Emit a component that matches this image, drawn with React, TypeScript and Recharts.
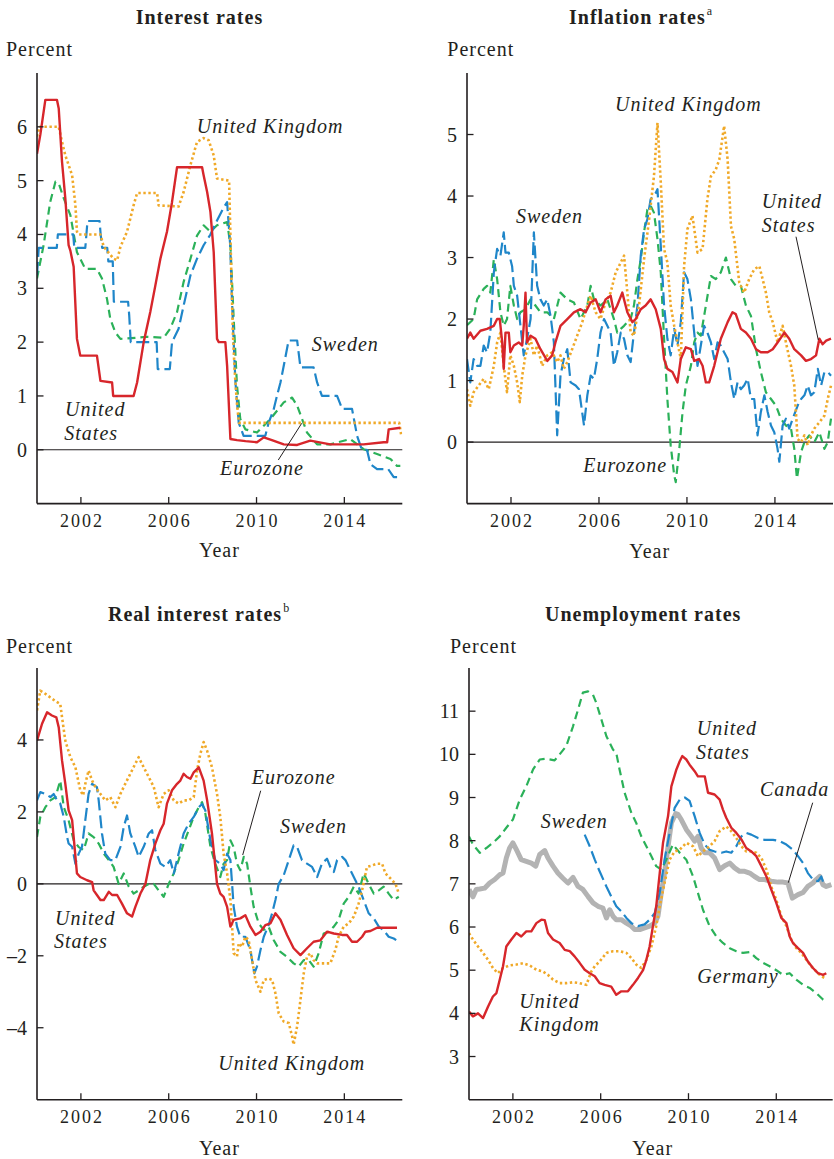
import React from 'react';
import { LineChart, Line, XAxis, YAxis, ReferenceLine } from 'recharts';

type P = [number, number];

// ---------- Interest rates ----------
const interestUS: P[] = [[2000.0,5.5],[2000.15,5.85],[2000.38,6.5],[2000.91,6.5],[2000.99,6.34],[2001.14,5.35],[2001.29,4.67],[2001.44,3.8],[2001.52,3.7],[2001.67,3.4],[2001.82,2.06],[2001.97,1.75],[2002.73,1.75],[2002.89,1.28],[2003.42,1.25],[2003.47,1.0],[2004.4,1.0],[2004.56,1.25],[2004.86,2.0],[2005.16,2.56],[2005.39,3.05],[2005.62,3.55],[2005.92,4.05],[2006.15,4.6],[2006.38,5.25],[2007.52,5.25],[2007.59,5.1],[2007.75,4.79],[2007.9,4.42],[2008.05,3.67],[2008.2,2.06],[2008.28,2.0],[2008.58,2.0],[2008.66,1.56],[2008.81,0.2],[2009.11,0.18],[2009.5,0.16],[2010.02,0.14],[2010.33,0.23],[2010.7,0.18],[2011.24,0.1],[2011.85,0.09],[2012.45,0.17],[2013.36,0.1],[2014.88,0.1],[2015.79,0.14],[2015.95,0.14],[2016.02,0.38],[2016.55,0.41]];
const interestUK: P[] = [[2000.0,5.82],[2000.11,6.0],[2000.99,6.0],[2001.14,5.72],[2001.29,5.47],[2001.44,5.29],[2001.6,5.1],[2001.75,4.54],[2001.82,4.05],[2001.9,4.0],[2002.89,4.0],[2003.04,3.77],[2003.49,3.55],[2003.65,3.52],[2003.8,3.77],[2004.1,4.05],[2004.4,4.54],[2004.56,4.77],[2005.47,4.77],[2005.54,4.54],[2006.45,4.52],[2006.68,4.79],[2006.99,5.29],[2007.29,5.72],[2007.59,5.79],[2007.82,5.75],[2008.05,5.47],[2008.2,5.04],[2008.75,5.0],[2008.85,3.3],[2008.92,2.2],[2009.0,1.5],[2009.1,0.9],[2009.2,0.5],[2016.5,0.5],[2016.6,0.25]];
const interestSE: P[] = [[2000.0,3.25],[2000.08,3.75],[2000.9,3.75],[2000.95,4.0],[2001.65,4.0],[2001.7,3.75],[2002.2,3.75],[2002.25,4.0],[2002.3,4.25],[2002.85,4.25],[2002.9,4.0],[2002.97,3.75],[2003.2,3.75],[2003.25,3.5],[2003.45,3.5],[2003.5,2.75],[2004.15,2.75],[2004.2,2.5],[2004.27,2.0],[2005.45,2.0],[2005.5,1.5],[2006.05,1.5],[2006.15,2.0],[2006.45,2.25],[2006.68,2.68],[2006.99,3.24],[2007.29,3.55],[2007.59,3.8],[2007.9,4.0],[2008.2,4.26],[2008.5,4.5],[2008.66,4.6],[2008.8,3.8],[2008.88,2.8],[2008.96,2.0],[2009.04,1.25],[2009.19,0.5],[2009.41,0.26],[2010.4,0.26],[2010.55,0.5],[2010.78,0.75],[2010.93,1.0],[2011.09,1.25],[2011.24,1.56],[2011.46,2.03],[2011.85,2.03],[2012.0,1.53],[2012.6,1.53],[2012.76,1.25],[2012.98,1.0],[2013.67,1.0],[2013.9,0.76],[2014.35,0.76],[2014.58,0.26],[2014.8,0.0],[2015.03,0.0],[2015.19,-0.27],[2015.49,-0.36],[2016.0,-0.36],[2016.25,-0.51],[2016.6,-0.51]];
const interestEZ: P[] = [[2000.0,3.18],[2000.3,3.8],[2000.6,4.6],[2000.84,4.98],[2000.99,4.95],[2001.22,4.67],[2001.52,4.36],[2001.82,3.67],[2001.97,3.55],[2002.2,3.36],[2002.73,3.36],[2002.96,3.18],[2003.19,2.8],[2003.34,2.43],[2003.57,2.18],[2003.8,2.06],[2004.5,2.08],[2005.0,2.1],[2005.77,2.08],[2006.07,2.25],[2006.38,2.56],[2006.68,3.12],[2006.99,3.55],[2007.29,3.98],[2007.59,4.17],[2007.9,4.05],[2008.2,4.17],[2008.66,4.23],[2008.81,3.8],[2008.96,2.43],[2009.11,1.19],[2009.26,0.57],[2009.49,0.38],[2010.02,0.32],[2010.63,0.57],[2011.24,0.88],[2011.62,0.97],[2011.85,0.82],[2012.3,0.32],[2012.76,0.1],[2013.36,0.1],[2014.27,0.2],[2014.88,0.01],[2015.49,-0.08],[2016.1,-0.17],[2016.4,-0.3],[2016.55,-0.3]];

// ---------- Inflation rates ----------
const inflUS: P[] = [[2000.0,1.68],[2000.15,1.78],[2000.3,1.68],[2000.61,1.81],[2000.91,1.84],[2001.22,1.89],[2001.37,2.0],[2001.49,2.0],[2001.6,1.62],[2001.67,1.19],[2001.75,1.78],[2001.9,1.78],[2001.97,1.46],[2002.13,1.57],[2002.35,1.62],[2002.51,1.57],[2002.58,1.89],[2002.66,2.43],[2002.73,1.62],[2002.89,1.73],[2003.11,1.68],[2003.34,1.51],[2003.65,1.32],[2003.87,1.41],[2004.02,1.62],[2004.25,1.89],[2004.56,2.0],[2004.86,2.11],[2005.16,2.16],[2005.39,2.11],[2005.62,2.27],[2005.85,2.32],[2006.07,2.11],[2006.3,2.32],[2006.53,2.38],[2006.68,2.11],[2006.83,2.22],[2007.06,2.43],[2007.29,2.11],[2007.52,1.95],[2007.67,2.0],[2007.9,2.16],[2008.12,2.22],[2008.35,2.32],[2008.58,2.16],[2008.81,1.84],[2008.96,1.35],[2009.11,1.19],[2009.34,1.14],[2009.57,0.97],[2009.72,1.35],[2009.95,1.54],[2010.18,1.51],[2010.33,1.32],[2010.55,1.35],[2010.71,1.24],[2010.86,0.97],[2011.01,0.97],[2011.24,1.24],[2011.54,1.68],[2011.85,1.95],[2012.07,2.11],[2012.22,2.08],[2012.45,1.84],[2012.68,1.78],[2012.91,1.68],[2013.14,1.51],[2013.36,1.46],[2013.67,1.46],[2013.9,1.51],[2014.12,1.62],[2014.43,1.78],[2014.65,1.68],[2014.88,1.51],[2015.19,1.41],[2015.41,1.32],[2015.64,1.35],[2015.87,1.41],[2016.02,1.68],[2016.17,1.59],[2016.33,1.65],[2016.55,1.68]];
const inflUK: P[] = [[2000.0,0.86],[2000.15,0.59],[2000.3,0.81],[2000.53,0.92],[2000.76,1.03],[2000.99,0.86],[2001.22,1.24],[2001.37,1.62],[2001.52,1.78],[2001.67,1.24],[2001.82,0.81],[2001.97,1.41],[2002.13,1.24],[2002.28,0.97],[2002.4,0.65],[2002.51,1.08],[2002.66,1.41],[2002.89,1.68],[2003.04,1.41],[2003.19,1.57],[2003.42,1.24],[2003.65,1.41],[2003.87,1.46],[2004.1,1.3],[2004.25,1.41],[2004.4,1.19],[2004.56,1.3],[2004.78,1.51],[2005.01,1.73],[2005.24,1.95],[2005.47,2.22],[2005.62,2.38],[2005.85,2.11],[2006.07,2.0],[2006.3,2.27],[2006.53,2.43],[2006.76,2.76],[2006.91,2.86],[2007.14,3.03],[2007.29,2.43],[2007.44,1.78],[2007.59,1.73],[2007.82,2.22],[2008.05,2.97],[2008.28,3.62],[2008.5,4.32],[2008.66,5.19],[2008.81,4.22],[2008.96,3.14],[2009.11,2.92],[2009.26,2.22],[2009.42,1.89],[2009.57,1.62],[2009.72,1.35],[2009.87,2.86],[2010.02,3.46],[2010.25,3.68],[2010.48,3.08],[2010.71,3.14],[2010.93,3.95],[2011.09,4.32],[2011.31,4.43],[2011.47,4.59],[2011.69,5.14],[2011.85,4.59],[2012.0,3.51],[2012.15,3.3],[2012.38,2.59],[2012.6,2.43],[2012.83,2.65],[2013.06,2.81],[2013.29,2.86],[2013.44,2.65],[2013.59,2.43],[2013.74,2.11],[2013.9,1.95],[2014.12,1.62],[2014.35,1.89],[2014.5,1.62],[2014.73,1.24],[2014.88,0.92],[2015.03,0.05],[2015.19,0.0],[2015.34,0.11],[2015.49,-0.05],[2015.64,0.11],[2015.79,0.22],[2016.02,0.32],[2016.25,0.43],[2016.4,0.7],[2016.55,0.92]];
const inflSE: P[] = [[2000.0,1.35],[2000.15,0.97],[2000.3,1.35],[2000.46,1.24],[2000.61,1.24],[2000.76,1.57],[2000.91,1.46],[2001.06,1.78],[2001.22,2.76],[2001.37,3.14],[2001.52,3.03],[2001.67,3.41],[2001.75,3.08],[2001.9,3.08],[2002.05,2.86],[2002.13,2.54],[2002.28,2.38],[2002.43,1.89],[2002.58,1.41],[2002.73,1.68],[2002.89,2.0],[2003.04,3.41],[2003.19,2.54],[2003.34,2.32],[2003.49,2.22],[2003.65,2.32],[2003.8,2.05],[2003.95,1.62],[2004.1,0.11],[2004.25,1.08],[2004.4,1.35],[2004.56,1.51],[2004.71,0.97],[2004.94,0.92],[2005.09,0.86],[2005.32,0.27],[2005.47,0.76],[2005.62,1.08],[2005.77,1.03],[2005.92,1.35],[2006.07,1.78],[2006.23,2.0],[2006.38,1.89],[2006.53,1.78],[2006.68,1.24],[2006.83,1.46],[2006.99,1.78],[2007.14,1.68],[2007.29,1.41],[2007.44,1.3],[2007.59,1.78],[2007.75,2.22],[2007.9,3.03],[2008.05,3.46],[2008.2,3.62],[2008.35,3.95],[2008.58,4.05],[2008.66,4.11],[2008.81,3.19],[2008.96,2.22],[2009.11,1.68],[2009.26,1.41],[2009.42,1.84],[2009.57,1.57],[2009.72,1.95],[2009.87,2.76],[2010.02,2.65],[2010.18,2.32],[2010.33,1.78],[2010.48,1.24],[2010.63,1.57],[2010.78,1.89],[2010.93,1.78],[2011.09,1.62],[2011.24,1.35],[2011.39,1.62],[2011.54,1.57],[2011.69,1.46],[2011.85,1.35],[2012.0,0.97],[2012.15,0.7],[2012.3,0.97],[2012.45,0.86],[2012.6,0.92],[2012.76,1.03],[2012.91,0.7],[2013.06,0.7],[2013.21,0.11],[2013.36,0.49],[2013.52,0.76],[2013.67,0.49],[2013.82,0.27],[2013.97,0.16],[2014.12,-0.11],[2014.2,-0.32],[2014.35,0.27],[2014.5,0.38],[2014.65,0.22],[2014.81,0.38],[2015.03,0.59],[2015.19,0.7],[2015.34,0.76],[2015.49,0.92],[2015.64,0.76],[2015.79,0.81],[2015.95,1.19],[2016.1,0.92],[2016.25,1.14],[2016.4,1.14],[2016.55,1.08]];
const inflEZ: P[] = [[2000.0,1.9],[2000.3,2.0],[2000.46,2.32],[2000.76,2.49],[2000.91,2.54],[2001.06,2.43],[2001.22,2.97],[2001.37,2.65],[2001.52,2.11],[2001.67,1.89],[2001.82,2.0],[2001.97,2.54],[2002.13,2.22],[2002.28,2.0],[2002.43,2.11],[2002.66,2.16],[2002.89,2.32],[2003.11,2.22],[2003.34,2.11],[2003.65,2.11],[2003.95,2.0],[2004.25,2.43],[2004.56,2.32],[2004.86,2.27],[2005.16,2.0],[2005.47,2.22],[2005.62,2.54],[2005.77,2.32],[2006.07,2.22],[2006.38,2.32],[2006.68,2.0],[2006.83,1.78],[2006.99,1.84],[2007.14,1.89],[2007.29,1.95],[2007.44,2.0],[2007.59,2.22],[2007.75,2.65],[2007.9,2.97],[2008.05,3.41],[2008.2,3.78],[2008.35,3.84],[2008.5,3.73],[2008.66,3.3],[2008.81,2.76],[2008.96,1.68],[2009.11,0.7],[2009.26,-0.05],[2009.42,-0.54],[2009.49,-0.65],[2009.64,-0.16],[2009.8,0.49],[2009.95,0.92],[2010.18,1.24],[2010.33,1.62],[2010.48,1.78],[2010.63,1.73],[2010.86,2.22],[2011.09,2.7],[2011.31,2.65],[2011.54,2.76],[2011.77,3.0],[2012.0,2.65],[2012.22,2.54],[2012.45,2.54],[2012.68,2.22],[2012.91,2.05],[2013.14,1.51],[2013.36,1.14],[2013.59,0.81],[2013.82,0.7],[2014.05,0.59],[2014.27,0.38],[2014.5,0.27],[2014.73,0.22],[2014.88,-0.11],[2015.0,-0.59],[2015.19,-0.16],[2015.34,0.0],[2015.56,0.11],[2015.79,0.0],[2016.02,0.16],[2016.25,-0.11],[2016.4,0.0],[2016.55,0.38]];

// ---------- Real interest rates ----------
const realUS: P[] = [[2000.0,3.98],[2000.23,4.45],[2000.46,4.77],[2000.68,4.68],[2000.88,4.63],[2000.99,4.35],[2001.14,3.43],[2001.29,2.78],[2001.44,2.04],[2001.6,1.77],[2001.67,1.3],[2001.82,0.29],[2001.97,0.19],[2002.28,0.1],[2002.51,0.05],[2002.58,-0.18],[2002.73,-0.31],[2002.89,-0.45],[2003.04,-0.45],[2003.27,-0.22],[2003.42,-0.31],[2003.65,-0.31],[2003.87,-0.55],[2004.1,-0.82],[2004.33,-0.91],[2004.48,-0.64],[2004.71,-0.27],[2004.94,0.0],[2005.16,0.66],[2005.39,1.12],[2005.62,1.49],[2005.77,1.67],[2005.92,2.23],[2006.15,2.6],[2006.38,2.78],[2006.53,2.87],[2006.68,3.06],[2006.83,2.97],[2006.99,2.92],[2007.14,3.1],[2007.37,3.24],[2007.59,2.87],[2007.75,2.32],[2007.97,1.4],[2008.2,0.0],[2008.35,-0.27],[2008.5,-0.36],[2008.66,-0.64],[2008.81,-1.19],[2008.96,-1.0],[2009.26,-0.96],[2009.49,-0.87],[2009.72,-1.19],[2009.95,-1.42],[2010.18,-1.33],[2010.4,-1.15],[2010.63,-1.1],[2010.86,-0.82],[2011.09,-1.0],[2011.39,-1.42],[2011.69,-1.79],[2012.0,-1.98],[2012.3,-1.79],[2012.6,-1.61],[2012.91,-1.57],[2013.21,-1.33],[2013.52,-1.38],[2013.9,-1.42],[2014.12,-1.42],[2014.35,-1.61],[2014.58,-1.61],[2014.81,-1.47],[2014.96,-1.33],[2015.19,-1.31],[2015.49,-1.22],[2016.4,-1.22]];
const realUK: P[] = [[2000.0,4.82],[2000.15,5.37],[2000.3,5.32],[2000.61,5.18],[2000.84,5.08],[2001.06,5.0],[2001.14,4.63],[2001.29,3.98],[2001.52,3.52],[2001.75,3.24],[2001.97,2.6],[2002.1,2.46],[2002.2,2.78],[2002.35,3.15],[2002.51,2.87],[2002.66,2.69],[2002.89,2.5],[2003.11,2.32],[2003.34,2.41],[2003.57,2.13],[2003.8,2.5],[2004.02,2.78],[2004.25,3.06],[2004.48,3.34],[2004.63,3.52],[2004.86,3.24],[2005.09,2.97],[2005.32,2.69],[2005.54,2.13],[2005.77,2.5],[2006.0,2.6],[2006.23,2.32],[2006.45,2.23],[2006.68,2.32],[2006.91,2.32],[2007.14,2.41],[2007.29,3.15],[2007.44,3.61],[2007.59,3.94],[2007.75,3.7],[2007.97,3.24],[2008.2,2.5],[2008.35,1.86],[2008.5,0.84],[2008.66,0.29],[2008.81,-0.45],[2008.96,-1.93],[2009.11,-2.02],[2009.19,-1.65],[2009.34,-1.75],[2009.49,-1.47],[2009.64,-1.56],[2009.8,-2.12],[2009.95,-2.67],[2010.18,-3.0],[2010.33,-2.67],[2010.55,-2.63],[2010.71,-2.67],[2010.86,-3.04],[2011.01,-3.6],[2011.24,-3.83],[2011.47,-3.87],[2011.62,-4.24],[2011.69,-4.47],[2011.85,-3.96],[2012.0,-3.23],[2012.15,-2.49],[2012.3,-2.02],[2012.45,-1.93],[2012.6,-2.12],[2012.76,-2.21],[2013.06,-2.21],[2013.36,-2.21],[2013.59,-1.84],[2013.74,-1.47],[2013.97,-1.19],[2014.2,-1.1],[2014.43,-0.91],[2014.65,-0.55],[2014.81,-0.18],[2015.03,0.47],[2015.26,0.51],[2015.49,0.56],[2015.72,0.56],[2015.87,0.29],[2016.1,0.15],[2016.33,0.0],[2016.48,-0.27]];
const realSE: P[] = [[2000.0,2.32],[2000.15,2.55],[2000.38,2.5],[2000.61,2.41],[2000.76,2.5],[2000.91,2.32],[2001.06,2.23],[2001.22,1.86],[2001.37,1.3],[2001.44,1.12],[2001.6,1.03],[2001.75,0.56],[2001.9,0.84],[2002.05,1.03],[2002.2,1.77],[2002.35,2.5],[2002.51,2.78],[2002.73,2.69],[2002.81,2.32],[2002.96,1.4],[2003.11,0.84],[2003.34,0.66],[2003.57,0.66],[2003.8,1.03],[2003.95,1.58],[2004.1,1.9],[2004.25,1.4],[2004.48,1.03],[2004.63,0.75],[2004.86,1.03],[2005.09,1.4],[2005.24,1.49],[2005.39,0.94],[2005.62,0.56],[2005.85,0.47],[2006.07,0.66],[2006.23,0.29],[2006.45,0.84],[2006.68,1.4],[2006.91,1.68],[2007.14,1.86],[2007.37,2.13],[2007.52,2.22],[2007.67,2.04],[2007.9,1.21],[2008.12,0.66],[2008.35,0.56],[2008.5,0.38],[2008.66,0.84],[2008.81,0.66],[2008.96,-0.64],[2009.11,-1.19],[2009.26,-1.47],[2009.49,-1.47],[2009.72,-1.84],[2009.9,-2.49],[2010.02,-2.3],[2010.18,-1.84],[2010.33,-1.47],[2010.55,-1.15],[2010.71,-0.82],[2010.86,-0.45],[2011.01,0.0],[2011.24,0.24],[2011.47,0.66],[2011.69,1.07],[2011.85,1.02],[2012.07,0.66],[2012.3,0.56],[2012.53,0.47],[2012.76,0.19],[2012.98,0.56],[2013.21,0.7],[2013.36,0.47],[2013.52,0.33],[2013.67,0.66],[2013.9,0.75],[2014.05,0.66],[2014.2,0.47],[2014.43,0.19],[2014.65,-0.08],[2014.88,-0.45],[2015.11,-0.82],[2015.34,-0.96],[2015.57,-1.19],[2015.79,-1.29],[2016.02,-1.47],[2016.25,-1.52],[2016.48,-1.61]];
const realEZ: P[] = [[2000.0,1.3],[2000.15,1.86],[2000.38,2.13],[2000.61,2.32],[2000.84,2.41],[2001.06,2.87],[2001.22,2.13],[2001.44,1.77],[2001.67,1.21],[2001.9,1.02],[2002.13,0.94],[2002.35,1.4],[2002.58,1.3],[2002.81,1.12],[2003.04,0.84],[2003.27,0.66],[2003.49,0.47],[2003.72,0.0],[2003.95,0.29],[2004.18,-0.08],[2004.4,-0.27],[2004.63,-0.18],[2004.86,-0.08],[2005.09,0.0],[2005.32,0.0],[2005.54,-0.18],[2005.77,-0.36],[2006.0,0.0],[2006.23,0.29],[2006.45,0.66],[2006.68,1.12],[2006.91,1.49],[2007.14,1.86],[2007.37,2.13],[2007.52,2.27],[2007.67,1.95],[2007.9,1.03],[2008.12,0.56],[2008.35,0.19],[2008.5,0.56],[2008.66,0.66],[2008.81,1.21],[2008.96,1.02],[2009.11,0.56],[2009.26,0.38],[2009.42,0.75],[2009.57,0.56],[2009.72,-0.08],[2009.87,-0.64],[2010.1,-1.1],[2010.33,-1.28],[2010.55,-1.19],[2010.78,-1.56],[2011.09,-1.89],[2011.39,-2.03],[2011.69,-2.21],[2011.92,-2.3],[2012.15,-2.12],[2012.38,-2.12],[2012.6,-2.3],[2012.83,-1.93],[2013.06,-1.38],[2013.29,-1.33],[2013.52,-1.19],[2013.74,-1.0],[2013.97,-0.55],[2014.2,-0.36],[2014.43,-0.08],[2014.65,-0.27],[2014.88,0.29],[2015.11,0.0],[2015.34,-0.27],[2015.57,-0.18],[2015.79,-0.08],[2016.02,-0.27],[2016.25,-0.45],[2016.48,-0.36]];

// ---------- Unemployment rates ----------
const unempDE: P[] = [[2000.0,8.1],[2000.18,7.91],[2000.49,7.72],[2000.79,7.83],[2001.09,7.95],[2001.4,8.1],[2001.7,8.3],[2002.0,8.49],[2002.31,8.95],[2002.61,9.26],[2002.92,9.65],[2003.22,9.88],[2003.52,9.9],[2003.9,9.86],[2004.13,10.0],[2004.43,10.19],[2004.74,10.65],[2004.97,11.04],[2005.19,11.43],[2005.42,11.46],[2005.65,11.38],[2005.8,11.19],[2006.03,10.81],[2006.26,10.42],[2006.56,10.11],[2006.71,10.03],[2006.86,9.65],[2007.09,9.11],[2007.4,8.64],[2007.62,8.41],[2007.85,8.1],[2008.08,7.87],[2008.31,7.64],[2008.53,7.41],[2008.76,7.33],[2008.99,7.56],[2009.29,7.91],[2009.6,7.72],[2009.9,7.56],[2010.21,7.17],[2010.43,6.79],[2010.66,6.4],[2010.96,6.02],[2011.27,5.78],[2011.57,5.63],[2011.88,5.51],[2012.18,5.44],[2012.48,5.4],[2012.79,5.42],[2013.09,5.28],[2013.39,5.17],[2013.7,5.09],[2014.0,5.0],[2014.31,4.89],[2014.61,4.93],[2014.91,4.78],[2015.22,4.66],[2015.52,4.59],[2015.82,4.47],[2016.13,4.32],[2016.28,4.28]];
const unempUS: P[] = [[2000.0,4.04],[2000.18,3.93],[2000.41,4.0],[2000.64,3.89],[2000.87,4.16],[2001.09,4.39],[2001.25,4.47],[2001.4,4.78],[2001.55,5.09],[2001.7,5.55],[2001.93,5.71],[2002.16,5.86],[2002.38,5.78],[2002.61,5.9],[2002.84,5.9],[2003.07,6.09],[2003.3,6.17],[2003.45,6.16],[2003.6,5.86],[2003.83,5.71],[2004.13,5.63],[2004.36,5.47],[2004.59,5.44],[2004.81,5.32],[2005.04,5.17],[2005.27,5.01],[2005.5,4.93],[2005.73,4.86],[2005.95,4.7],[2006.18,4.66],[2006.48,4.62],[2006.71,4.43],[2006.94,4.51],[2007.24,4.51],[2007.47,4.66],[2007.7,4.82],[2007.93,5.0],[2008.08,5.24],[2008.23,5.55],[2008.38,6.02],[2008.53,6.48],[2008.69,7.25],[2008.84,7.95],[2009.07,8.57],[2009.22,9.26],[2009.45,9.65],[2009.6,9.84],[2009.72,9.96],[2009.9,9.88],[2010.05,9.76],[2010.28,9.61],[2010.43,9.49],[2010.74,9.49],[2010.89,9.11],[2011.19,9.07],[2011.42,8.95],[2011.57,8.72],[2011.72,8.53],[2011.95,8.3],[2012.18,8.18],[2012.41,8.03],[2012.63,7.83],[2012.86,7.75],[2013.09,7.64],[2013.32,7.41],[2013.55,7.17],[2013.77,6.87],[2014.0,6.56],[2014.23,6.21],[2014.46,6.09],[2014.61,5.78],[2014.76,5.63],[2014.99,5.51],[2015.22,5.4],[2015.44,5.2],[2015.67,5.05],[2015.9,4.93],[2016.13,4.89],[2016.28,4.93]];
const unempUK: P[] = [[2000.0,5.86],[2000.18,5.71],[2000.41,5.55],[2000.64,5.4],[2000.87,5.24],[2001.09,5.05],[2001.32,4.93],[2001.55,5.05],[2001.85,5.11],[2002.16,5.13],[2002.46,5.16],[2002.76,5.11],[2003.07,5.01],[2003.37,4.97],[2003.6,4.89],[2003.83,4.78],[2004.13,4.7],[2004.43,4.7],[2004.74,4.72],[2005.04,4.7],[2005.35,4.66],[2005.57,4.97],[2005.73,5.09],[2005.95,5.2],[2006.26,5.4],[2006.56,5.44],[2006.86,5.44],[2007.17,5.4],[2007.4,5.28],[2007.62,5.13],[2007.85,5.05],[2008.08,5.24],[2008.31,5.55],[2008.53,6.02],[2008.69,6.48],[2008.91,7.02],[2009.14,7.56],[2009.37,7.75],[2009.6,7.79],[2009.9,7.95],[2010.21,7.87],[2010.43,7.64],[2010.66,7.75],[2010.96,7.87],[2011.19,7.99],[2011.42,8.22],[2011.72,8.33],[2011.95,8.22],[2012.18,8.06],[2012.41,7.87],[2012.63,7.75],[2012.86,7.75],[2013.09,7.72],[2013.32,7.6],[2013.55,7.33],[2013.77,6.94],[2014.0,6.63],[2014.23,6.25],[2014.46,6.02],[2014.68,5.71],[2014.91,5.51],[2015.14,5.4],[2015.37,5.24],[2015.6,5.09],[2015.82,4.97],[2016.05,4.86],[2016.2,4.82]];
const unempSE: P[] = [[2005.27,8.14],[2005.5,7.87],[2005.73,7.56],[2005.95,7.29],[2006.26,6.94],[2006.48,6.71],[2006.71,6.48],[2006.94,6.36],[2007.17,6.21],[2007.4,6.09],[2007.7,6.02],[2008.0,6.06],[2008.23,6.17],[2008.46,6.32],[2008.69,6.79],[2008.91,7.56],[2009.14,8.18],[2009.37,8.76],[2009.6,8.95],[2009.83,9.0],[2010.05,8.92],[2010.28,8.57],[2010.51,8.18],[2010.74,7.91],[2010.96,7.79],[2011.19,7.75],[2011.5,7.72],[2011.72,7.75],[2011.95,7.72],[2012.18,7.87],[2012.41,8.1],[2012.63,8.18],[2012.86,8.14],[2013.17,8.06],[2013.47,8.02],[2013.85,8.02],[2014.15,7.99],[2014.46,7.91],[2014.76,7.79],[2014.99,7.64],[2015.22,7.48],[2015.44,7.25],[2015.67,7.1],[2015.9,7.06],[2016.05,7.17],[2016.2,6.94]];
const unempCA: P[] = [[2000.0,6.87],[2000.18,6.7],[2000.33,6.87],[2000.49,6.88],[2000.71,6.9],[2000.94,7.02],[2001.17,7.1],[2001.4,7.21],[2001.55,7.25],[2001.7,7.6],[2001.85,7.83],[2002.0,7.95],[2002.16,7.79],[2002.38,7.56],[2002.61,7.52],[2002.84,7.48],[2003.04,7.41],[2003.22,7.68],[2003.45,7.77],[2003.6,7.6],[2003.83,7.41],[2004.05,7.25],[2004.28,7.13],[2004.51,7.02],[2004.74,7.15],[2004.97,6.94],[2005.19,6.87],[2005.42,6.71],[2005.65,6.56],[2005.88,6.48],[2006.1,6.44],[2006.26,6.21],[2006.41,6.4],[2006.56,6.25],[2006.71,6.17],[2006.94,6.17],[2007.17,6.09],[2007.4,6.02],[2007.55,5.94],[2007.78,5.94],[2008.0,5.98],[2008.23,6.02],[2008.46,6.09],[2008.61,6.25],[2008.76,6.79],[2008.91,7.25],[2009.07,7.87],[2009.22,8.41],[2009.42,8.63],[2009.52,8.61],[2009.67,8.49],[2009.9,8.26],[2010.13,8.1],[2010.28,7.99],[2010.43,8.1],[2010.58,7.83],[2010.74,7.72],[2010.96,7.72],[2011.19,7.6],[2011.42,7.33],[2011.65,7.42],[2011.88,7.48],[2012.1,7.37],[2012.33,7.29],[2012.56,7.29],[2012.79,7.25],[2013.01,7.17],[2013.24,7.1],[2013.47,7.1],[2013.77,7.06],[2014.08,7.04],[2014.31,7.04],[2014.53,7.02],[2014.73,6.67],[2014.99,6.75],[2015.22,6.8],[2015.44,6.94],[2015.67,7.02],[2015.82,7.1],[2015.98,7.17],[2016.13,6.98],[2016.28,6.94],[2016.51,6.98]];

// ---------- Axis ticks ----------
const xTicks = [2002, 2006, 2010, 2014];
const ticksInterest = [0, 1, 2, 3, 4, 5, 6];
const ticksInflation = [0, 1, 2, 3, 4, 5];
const ticksReal = [-4, -2, 0, 2, 4];
const ticksUnemp = [3, 4, 5, 6, 7, 8, 9, 10, 11];

const RED = '#d7262b';
const ORANGE = '#f0a928';
const BLUE = '#1f86c9';
const GREEN = '#2bb159';
const GRAY = '#b3b3b3';
const AXIS = '#231f20';
const FONT = '"Liberation Serif", "Times New Roman", serif';

type S = { data: P[]; color: string; width: number; dash?: string; cap?: string };

const sUS = (d: P[]): S => ({ data: d, color: RED, width: 2.4 });
const sUK = (d: P[]): S => ({ data: d, color: ORANGE, width: 2.6, dash: '2.4 2.6' });
const sSE = (d: P[]): S => ({ data: d, color: BLUE, width: 2.2, dash: '13 5' });
const sEZ = (d: P[]): S => ({ data: d, color: GREEN, width: 2.2, dash: '8 5' });
const sCA = (d: P[]): S => ({ data: d, color: GRAY, width: 5 });

const fmt = (v: number) => (v < 0 ? '\u2013' + Math.abs(v) : String(v));

const XTick = (props: any) => {
  const { x, y, payload } = props;
  return (
    <g>
      <line x1={x} x2={x} y1={y} y2={y - 6.5} stroke={AXIS} strokeWidth={1.3} />
      <text x={x + 1} y={y + 23.4} textAnchor="middle" fontSize={18} letterSpacing={2} fill={AXIS} fontFamily={FONT}>
        {payload.value}
      </text>
    </g>
  );
};

const YTick = (props: any) => {
  const { x, y, payload } = props;
  return (
    <g>
      <line x1={x} x2={x + 6.5} y1={y} y2={y} stroke={AXIS} strokeWidth={1.3} />
      <text x={x - 10} y={y + 7} textAnchor="end" fontSize={20} fill={AXIS} fontFamily={FONT}>
        {fmt(payload.value)}
      </text>
    </g>
  );
};

const Y_W = 50;
const X_H = 40;
const PAD = 3;

type PanelProps = {
  box: [number, number, number, number];
  xMax: number;
  yDomain: [number, number];
  yTicks: number[];
  zero: boolean;
  series: S[];
};

function Panel({ box, xMax, yDomain, yTicks, zero, series }: PanelProps) {
  const [l, t, r, b] = box;
  const w = r - l;
  const h = b - t;
  const axisLine = { stroke: AXIS, strokeWidth: 1.6 };
  return (
    <div style={{ position: 'absolute', left: l - Y_W, top: t - PAD }}>
      <LineChart width={Y_W + w + PAD} height={PAD + h + X_H} margin={{ top: PAD, right: PAD, bottom: 0, left: 0 }}>
        <XAxis xAxisId="b" type="number" dataKey="x" domain={[2000, xMax]} allowDataOverflow ticks={xTicks} interval={0}
          height={X_H} tickSize={0} tickMargin={0} tickLine={false} tick={(p: any) => <XTick {...p} />} axisLine={axisLine} />
        <XAxis xAxisId="t" orientation="top" type="number" dataKey="x" domain={[2000, xMax]} allowDataOverflow height={0}
          tick={false} tickLine={false} axisLine={axisLine} />
        <YAxis yAxisId="l" type="number" domain={yDomain} allowDataOverflow ticks={yTicks} interval={0} width={Y_W}
          tickSize={0} tickMargin={0} tickLine={false} tick={(p: any) => <YTick {...p} />} axisLine={axisLine} />
        <YAxis yAxisId="r" orientation="right" type="number" domain={yDomain} allowDataOverflow width={0}
          tick={false} tickLine={false} axisLine={axisLine} />
        {zero && <ReferenceLine xAxisId="b" yAxisId="l" y={0} stroke={AXIS} strokeWidth={1.2} />}
        {series.map((s, i) => (
          <Line key={i} xAxisId="b" yAxisId="l" data={s.data.map(([x, y]) => ({ x, y }))} dataKey="y" type="linear"
            dot={false} activeDot={false} stroke={s.color} strokeWidth={s.width} strokeDasharray={s.dash}
            strokeLinejoin="round" isAnimationActive={false} />
        ))}
      </LineChart>
    </div>
  );
}

type Lab = { t: string; x: number; y: number };
const italicLabels: Lab[] = [
  { t: 'United Kingdom', x: 196.7, y: 133.3 },
  { t: 'Sweden', x: 311.7, y: 351 },
  { t: 'United', x: 65, y: 415.7 },
  { t: 'States', x: 64.3, y: 440 },
  { t: 'Eurozone', x: 220, y: 475 },
  { t: 'United Kingdom', x: 615, y: 111 },
  { t: 'Sweden', x: 516, y: 223.3 },
  { t: 'United', x: 761.7, y: 207.7 },
  { t: 'States', x: 761.7, y: 231.7 },
  { t: 'Eurozone', x: 583.3, y: 471.7 },
  { t: 'Eurozone', x: 251.7, y: 784 },
  { t: 'Sweden', x: 280, y: 833.3 },
  { t: 'United', x: 55, y: 925 },
  { t: 'States', x: 54, y: 948.3 },
  { t: 'United Kingdom', x: 218.3, y: 1070 },
  { t: 'United', x: 696.7, y: 735 },
  { t: 'States', x: 696, y: 759 },
  { t: 'Canada', x: 760, y: 796 },
  { t: 'Sweden', x: 540.7, y: 828.3 },
  { t: 'Germany', x: 697.3, y: 983 },
  { t: 'United', x: 519.3, y: 1007.7 },
  { t: 'Kingdom', x: 519.3, y: 1030.7 },
];
const leaders: [number, number, number, number][] = [
  [278.3, 460, 301.7, 423.3],
  [796, 236.7, 818.3, 340],
  [260.7, 790.7, 242.7, 855],
  [812.7, 802.7, 788.3, 882.7],
];
const plainLabels: Lab[] = [
  { t: 'Percent', x: 6, y: 56 },
  { t: 'Percent', x: 447.3, y: 56 },
  { t: 'Percent', x: 6, y: 652.7 },
  { t: 'Percent', x: 450, y: 652.7 },
  { t: 'Year', x: 199, y: 556.7 },
  { t: 'Year', x: 629.3, y: 558 },
  { t: 'Year', x: 199, y: 1155 },
  { t: 'Year', x: 632.3, y: 1155 },
];
type Title = { t: string; sup?: string; x: number; y: number };
const titles: Title[] = [
  { t: 'Interest rates', x: 135.7, y: 24 },
  { t: 'Inflation rates', sup: 'a', x: 569, y: 24 },
  { t: 'Real interest rates', sup: 'b', x: 108, y: 621 },
  { t: 'Unemployment rates', x: 545, y: 621 },
];

export default function App() {
  return (
    <div style={{ position: 'absolute', left: 0, top: 0, width: 834, height: 1159, background: '#fff', overflow: 'hidden' }}>
      <Panel box={[36.7, 72.7, 402, 503.3]} xMax={2016.64} yDomain={[-1, 7]} yTicks={ticksInterest} zero
        series={[sEZ(interestEZ), sSE(interestSE), sUK(interestUK), sUS(interestUS)]} />
      <Panel box={[466.7, 72.7, 832.7, 503.3]} xMax={2016.64} yDomain={[-1, 6]} yTicks={ticksInflation} zero
        series={[sEZ(inflEZ), sSE(inflSE), sUK(inflUK), sUS(inflUS)]} />
      <Panel box={[36.7, 668.3, 402, 1100]} xMax={2016.64} yDomain={[-6, 6]} yTicks={ticksReal} zero
        series={[sEZ(realEZ), sSE(realSE), sUK(realUK), sUS(realUS)]} />
      <Panel box={[469.3, 668.3, 833, 1100]} xMax={2016.57} yDomain={[2, 12]} yTicks={ticksUnemp} zero={false}
        series={[sCA(unempCA), sEZ(unempDE), sSE(unempSE), sUK(unempUK), sUS(unempUS)]} />
      <svg width={834} height={1159} style={{ position: 'absolute', left: 0, top: 0, pointerEvents: 'none' }}>
        {titles.map((ti, i) => (
          <text key={'t' + i} x={ti.x} y={ti.y} fontFamily={FONT} fontSize={20} fontWeight="bold" letterSpacing={1} fill={AXIS}>
            {ti.t}
            {ti.sup && <tspan fontSize={12} fontWeight="normal" dy={-9} dx={1}>{ti.sup}</tspan>}
          </text>
        ))}
        {plainLabels.map((lb, i) => (
          <text key={'p' + i} x={lb.x} y={lb.y} fontFamily={FONT} fontSize={20} letterSpacing={1} fill={AXIS}>{lb.t}</text>
        ))}
        {italicLabels.map((lb, i) => (
          <text key={'i' + i} x={lb.x} y={lb.y} fontFamily={FONT} fontSize={20} fontStyle="italic" letterSpacing={1} fill={AXIS}>{lb.t}</text>
        ))}
        {leaders.map((ln, i) => (
          <line key={'l' + i} x1={ln[0]} y1={ln[1]} x2={ln[2]} y2={ln[3]} stroke={AXIS} strokeWidth={1} />
        ))}
      </svg>
    </div>
  );
}
